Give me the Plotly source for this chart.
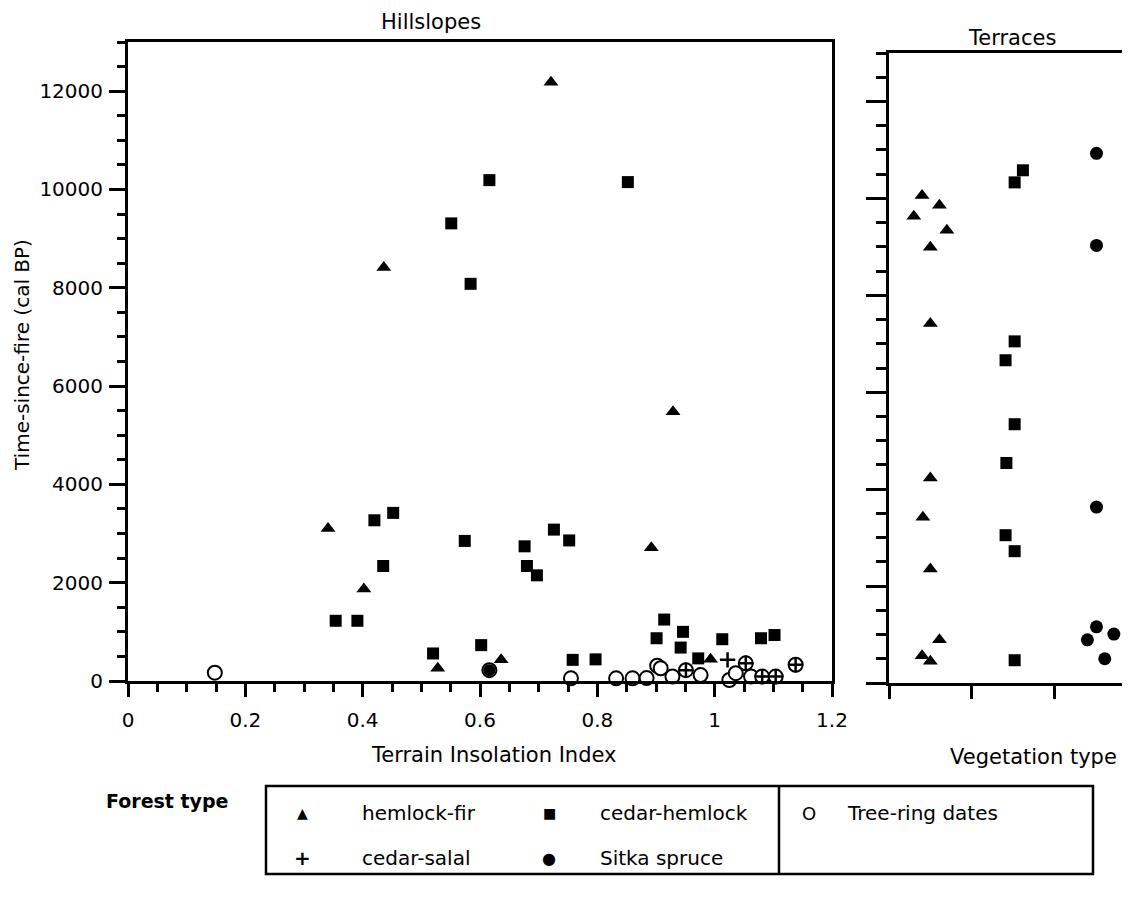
import plotly.graph_objects as go

# ---------------- Data: Hillslopes (Terrain Insolation Index vs time-since-fire) ----------------
hf_tii = [0.721, 0.436, 0.929, 0.341, 0.402, 0.892, 0.528, 0.636, 0.993]
hf_tsf = [12180, 8410, 5480, 3100, 1870, 2710, 260, 430, 440]

ch_tii = [0.616, 0.852, 0.551, 0.584, 0.420, 0.452, 0.435, 0.354, 0.391, 0.574, 0.676, 0.726,
          0.752, 0.680, 0.697, 0.914, 0.901, 0.946, 0.942, 1.013, 1.079, 1.102, 0.972, 0.520,
          0.602, 0.758, 0.797]
ch_tsf = [10190, 10150, 9310, 8080, 3270, 3420, 2340, 1225, 1225, 2850, 2740, 3080,
          2860, 2340, 2150, 1250, 870, 1000, 680, 850, 870, 935, 460, 560,
          730, 430, 440]

cs_tii = [1.022, 0.951, 1.053, 1.081, 1.104, 1.138]
cs_tsf = [430, 220, 360, 90, 90, 330]

ss_tii = [0.616]
ss_tsf = [220]

tr_tii = [0.148, 0.616, 0.755, 0.832, 0.860, 0.884, 0.902, 0.908, 0.928, 0.951, 0.976,
          1.025, 1.036, 1.053, 1.062, 1.081, 1.104, 1.138]
tr_tsf = [170, 220, 55, 55, 55, 60, 310, 260, 90, 220, 120,
          20, 160, 360, 90, 90, 90, 330]

# ---------------- Data: Terraces (vegetation type, jittered position) ----------------
veg_types = ["hemlock-fir", "cedar-hemlock", "Sitka spruce"]
t_hf_pos = [0.40, 0.61, 0.30, 0.70, 0.50, 0.50, 0.50, 0.41, 0.50, 0.61, 0.40, 0.50]
t_hf_tsf = [10060, 9860, 9630, 9340, 8990, 7420, 4230, 3420, 2350, 890, 560, 450]

t_ch_pos = [1.52, 1.62, 1.52, 1.41, 1.52, 1.42, 1.41, 1.52, 1.52]
t_ch_tsf = [10330, 10580, 7050, 6660, 5340, 4540, 3050, 2720, 470]

t_ss_pos = [2.51, 2.51, 2.51, 2.51, 2.72, 2.40, 2.61]
t_ss_tsf = [10930, 9030, 3630, 1160, 1010, 890, 500]

y_ticks = [0, 2000, 4000, 6000, 8000, 10000, 12000]
y_tick_labels = ["0", "2000", "4000", "6000", "8000", "10000", "12000"]
x_ticks = [0, 0.2, 0.4, 0.6, 0.8, 1.0, 1.2]
x_tick_labels = ["0", "0.2", "0.4", "0.6", "0.8", "1", "1.2"]

# ---------------- Figure ----------------
W, H = 1130, 899
OFF = 8  # page body margin
FONT = "DejaVu Sans"


def px(x):
    return (x - OFF) / W


def py(y):
    return 1 - (y - OFF) / H


fig = go.Figure()

tri = dict(symbol="triangle-up", size=13, color="black", line=dict(width=0))
sq = dict(symbol="square", size=12, color="black", line=dict(width=0))
ring = dict(symbol="circle", size=14, color="white", line=dict(width=2, color="black"))
plus = dict(symbol="cross-thin", size=11, line=dict(width=2.5, color="black"))
sitka = dict(symbol="circle", size=13, color="black", line=dict(width=0))

# hillslopes
fig.add_trace(go.Scatter(x=ch_tii, y=ch_tsf, mode="markers", marker=sq, cliponaxis=False, xaxis="x", yaxis="y"))
fig.add_trace(go.Scatter(x=hf_tii, y=hf_tsf, mode="markers", marker=tri, cliponaxis=False, xaxis="x", yaxis="y"))
fig.add_trace(go.Scatter(x=tr_tii, y=tr_tsf, mode="markers", marker=ring, cliponaxis=False, xaxis="x", yaxis="y"))
fig.add_trace(go.Scatter(x=cs_tii, y=cs_tsf, mode="markers", marker=plus, cliponaxis=False, xaxis="x", yaxis="y"))
fig.add_trace(go.Scatter(x=ss_tii, y=ss_tsf, mode="markers", marker=dict(symbol="circle", size=12, color="black"),
                         cliponaxis=False, xaxis="x", yaxis="y"))

# terraces
fig.add_trace(go.Scatter(x=t_hf_pos, y=t_hf_tsf, mode="markers", marker=tri, cliponaxis=False, xaxis="x2", yaxis="y2"))
fig.add_trace(go.Scatter(x=t_ch_pos, y=t_ch_tsf, mode="markers", marker=sq, cliponaxis=False, xaxis="x2", yaxis="y2"))
fig.add_trace(go.Scatter(x=t_ss_pos, y=t_ss_tsf, mode="markers", marker=sitka, cliponaxis=False, xaxis="x2", yaxis="y2"))

axis_common = dict(showgrid=False, zeroline=False, showline=True, linecolor="black", linewidth=3,
                   ticks="outside", tickcolor="black", tickwidth=3,
                   tickfont=dict(family=FONT, size=20, color="black"))

fig.update_layout(
    width=W, height=H,
    margin=dict(l=0, r=0, t=0, b=0),
    paper_bgcolor="white", plot_bgcolor="white",
    showlegend=False,
    xaxis=dict(domain=[px(128), px(832)], range=[0, 1.2], tickmode="array", tickvals=x_ticks,
               ticktext=x_tick_labels, ticklen=13, mirror=True, anchor="y", automargin=False,
               ticklabelstandoff=6,
               minor=dict(dtick=0.05, tick0=0, ticks="outside", ticklen=8, tickwidth=3, tickcolor="black"),
               **axis_common),
    yaxis=dict(domain=[py(681), py(42)], range=[0, 13000], tickmode="array", tickvals=y_ticks,
               ticktext=y_tick_labels,
               ticklen=16, mirror=True, anchor="x", automargin=False, ticklabelstandoff=2,
               minor=dict(dtick=500, tick0=0, ticks="outside", ticklen=8, tickwidth=3, tickcolor="black"),
               **axis_common),
    xaxis2=dict(domain=[px(889), px(1137)], range=[0, 3.0], tickmode="array", tickvals=[0, 1, 2],
                ticklen=13, showticklabels=False, mirror=True, anchor="y2", automargin=False,
                **axis_common),
    yaxis2=dict(domain=[py(683), py(53)], range=[0, 13000], tickmode="array", tickvals=y_ticks,
                ticklen=20, showticklabels=False, mirror=False, anchor="x2", automargin=False,
                minor=dict(dtick=500, tick0=0, ticks="outside", ticklen=10, tickwidth=3, tickcolor="black"),
                **axis_common),
)

ann = []


def add_text(x, y, text, size=20, xanchor="center", bold=False, angle=0):
    t = f"<b>{text}</b>" if bold else text
    ann.append(dict(x=px(x), y=py(y), xref="paper", yref="paper", text=t, showarrow=False,
                    xanchor=xanchor, yanchor="middle", textangle=angle,
                    font=dict(family=FONT, size=size, color="black")))


add_text(431, 22, "Hillslopes", size=21)
add_text(1012, 38, "Terraces", size=21)
add_text(493, 755, "Terrain Insolation Index", size=21)
add_text(1033, 757, "Vegetation type", size=21)
add_text(22, 355, "Time-since-fire (cal BP)", size=20, angle=-90)
add_text(167, 801, "Forest type", size=19, bold=True)

# legend entries
add_text(302, 813, "▲", size=14)
add_text(360, 813, "hemlock-fir", size=20, xanchor="left")
add_text(549, 813, "■", size=14)
add_text(598, 813, "cedar-hemlock", size=20, xanchor="left")
add_text(302, 858, "+", size=20, bold=True)
add_text(360, 858, "cedar-salal", size=20, xanchor="left")
add_text(549, 858, "●", size=16)
add_text(598, 858, "Sitka spruce", size=20, xanchor="left")
add_text(809, 813, "O", size=18)
add_text(845, 813, "Tree-ring dates", size=20, xanchor="left")

fig.update_layout(annotations=ann)

shapes = [
    dict(type="rect", xref="paper", yref="paper", x0=px(266), x1=px(1093), y0=py(874), y1=py(786),
         line=dict(color="black", width=2.5)),
    dict(type="line", xref="paper", yref="paper", x0=px(779), x1=px(779), y0=py(874), y1=py(786),
         line=dict(color="black", width=2.5)),
]
fig.update_layout(shapes=shapes)

fig.write_html("out.html")
